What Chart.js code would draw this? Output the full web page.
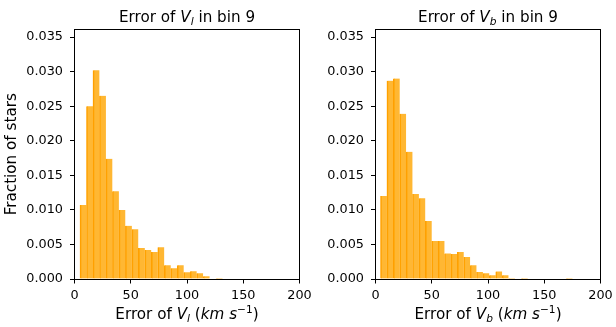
<!DOCTYPE html>
<html>
<head>
<meta charset="utf-8">
<script src="https://cdn.jsdelivr.net/npm/chart.js@4/dist/chart.umd.min.js"></script>
<style>
html,body{margin:0;padding:0;background:#fff;}
#wrap{position:relative;width:616px;height:327px;overflow:hidden;}
canvas{position:absolute;top:0;}
#cL{left:0;}
#cR{left:308px;}
</style>
</head>
<body>
<div id="wrap">
<canvas id="cL" width="322" height="327"></canvas>
<canvas id="cR" width="308" height="327"></canvas>
</div>
<script>
// ---------- data ----------
const xTicks = [0, 50, 100, 150, 200];
const yTicks = [0, 0.005, 0.010, 0.015, 0.020, 0.025, 0.030, 0.035];
const yLabel = 'Fraction of stars';

// left panel: error of V_l (histogram density, equal-width bins)
const binStartL = 4.9;
const binWidthL = 5.76;
const fracL = [0.0107, 0.0250, 0.0302, 0.0265, 0.0174, 0.0127, 0.0100, 0.0077,
               0.0072, 0.0045, 0.0042, 0.0039, 0.0046, 0.0020, 0.00155, 0.0020,
               0.00097, 0.00112, 0.00083, 0.00039, 0, 0.00015];

// right panel: error of V_b
const binStartR = 4.45;
const binWidthR = 5.69;
const fracR = [0.0120, 0.0287, 0.0290, 0.0239, 0.0184, 0.0123, 0.0117, 0.0084,
               0.0055, 0.0055, 0.0037, 0.0036, 0.0039, 0.0032, 0.0020, 0.0010,
               0.00083, 0.00054, 0.0011, 0.00054, 0.00015, 0, 0.00015, 0,
               0, 0, 0, 0, 0, 0.00015];

// text pieces (i = italic, s = sub/sup)
const titleL = [{t:'Error of '},{t:'V',i:1},{t:'l',i:1,s:'sub'},{t:' in bin 9'}];
const titleR = [{t:'Error of '},{t:'V',i:1},{t:'b',i:1,s:'sub'},{t:' in bin 9'}];
const xLabelL = [{t:'Error of '},{t:'V',i:1},{t:'l',i:1,s:'sub'},{t:' ('},{t:'km',i:1},{t:' '},{t:'s',i:1},{t:'\u22121',s:'sup'},{t:')'}];
const xLabelR = [{t:'Error of '},{t:'V',i:1},{t:'b',i:1,s:'sub'},{t:' ('},{t:'km',i:1},{t:' '},{t:'s',i:1},{t:'\u22121',s:'sup'},{t:')'}];

// ---------- drawing ----------
const FONT = "'DejaVu Sans', 'Liberation Sans', sans-serif";

function drawRich(ctx, parts, cx, baseline, size) {
  const fontFor = p => (p.i ? 'italic ' : '') + (p.s ? size * 0.7 : size) + 'px ' + FONT;
  let total = 0;
  const w = parts.map(p => { ctx.font = fontFor(p); const m = ctx.measureText(p.t).width; total += m; return m; });
  let x = cx - total / 2;
  ctx.fillStyle = '#000';
  ctx.textBaseline = 'alphabetic';
  ctx.textAlign = 'left';
  parts.forEach((p, k) => {
    ctx.font = fontFor(p);
    let dy = 0;
    if (p.s === 'sub') dy = size * 0.2;
    if (p.s === 'sup') dy = -size * 0.42;
    ctx.fillText(p.t, x, baseline + dy);
    x += w[k];
  });
}

const decor = {
  id: 'decor',
  afterDraw(chart, args, opts) {
    const ctx = chart.ctx;
    const a = chart.chartArea;
    ctx.save();
    // frame (spines)
    ctx.strokeStyle = '#000';
    ctx.lineWidth = 1;
    const l = Math.floor(a.left) + 0.5, r = Math.floor(a.right) + 0.5;
    const t = Math.floor(a.top) + 0.5, b = Math.floor(a.bottom) + 0.5;
    ctx.strokeRect(l, t, r - l, b - t);
    const cx = (a.left + a.right) / 2;
    drawRich(ctx, opts.title, cx, opts.titleY, 15.2);
    drawRich(ctx, opts.xlabel, cx, opts.xlabelY, 15.2);
    ctx.restore();
  }
};

function makeChart(id, canvasWidth, start, width, values, title, xlabel, yScaleWidth, areaRight, showYLabel) {
  const pts = values.map((v, k) => ({x: start + (k + 0.5) * width, y: v}));
  return new Chart(document.getElementById(id), {
    type: 'bar',
    data: {
      datasets: [{
        data: pts,
        backgroundColor: 'rgba(255,165,0,0.8)',
        borderColor: 'rgba(255,160,0,1)',
        borderWidth: {left: 1, right: 0, top: 0, bottom: 0},
        borderSkipped: false,
        barPercentage: 1,
        categoryPercentage: 1
      }]
    },
    options: {
      responsive: false,
      animation: false,
      events: [],
      layout: {padding: {left: 0, right: canvasWidth - areaRight, top: 29.5, bottom: 0}},
      plugins: {
        legend: {display: false},
        tooltip: {enabled: false},
        decor: {title: title, xlabel: xlabel, titleY: 21.5, xlabelY: 319}
      },
      scales: {
        x: {
          type: 'linear',
          min: 0, max: 200,
          offset: false,
          grid: {display: true, drawOnChartArea: false, drawTicks: true, tickLength: 4.5, color: '#000', lineWidth: 1, offset: false},
          border: {display: true, color: '#000', width: 1},
          ticks: {color: '#000', font: {family: FONT, size: 12.8}, padding: 4, maxRotation: 0, autoSkip: false,
                  callback: v => String(v)},
          afterBuildTicks: s => { s.ticks = xTicks.map(v => ({value: v})); },
          afterFit: s => { s.height = 327 - 279; s.paddingLeft = 0; s.paddingRight = 0; }
        },
        y: {
          type: 'linear',
          min: 0, max: 0.0361,
          grid: {display: true, drawOnChartArea: false, drawTicks: true, tickLength: 4.5, color: '#000', lineWidth: 1},
          border: {display: true, color: '#000', width: 1},
          ticks: {color: '#000', font: {family: FONT, size: 12.8}, padding: 7, autoSkip: false,
                  callback: v => Number(v).toFixed(3)},
          afterBuildTicks: s => { s.ticks = yTicks.map(v => ({value: v})); },
          afterFit: s => { s.width = yScaleWidth; s.paddingTop = 0; s.paddingBottom = 0; },
          title: {display: showYLabel, text: yLabel, color: '#000', font: {family: FONT, size: 15.2}, padding: {top: 3, bottom: 0}}
        }
      }
    },
    plugins: [decor]
  });
}

makeChart('cL', 322, binStartL, binWidthL, fracL, titleL, xLabelL, 74.5, 299.5, true);
makeChart('cR', 308, binStartR, binWidthR, fracR, titleR, xLabelR, 67.5, 292.5, false);
</script>
</body>
</html>
